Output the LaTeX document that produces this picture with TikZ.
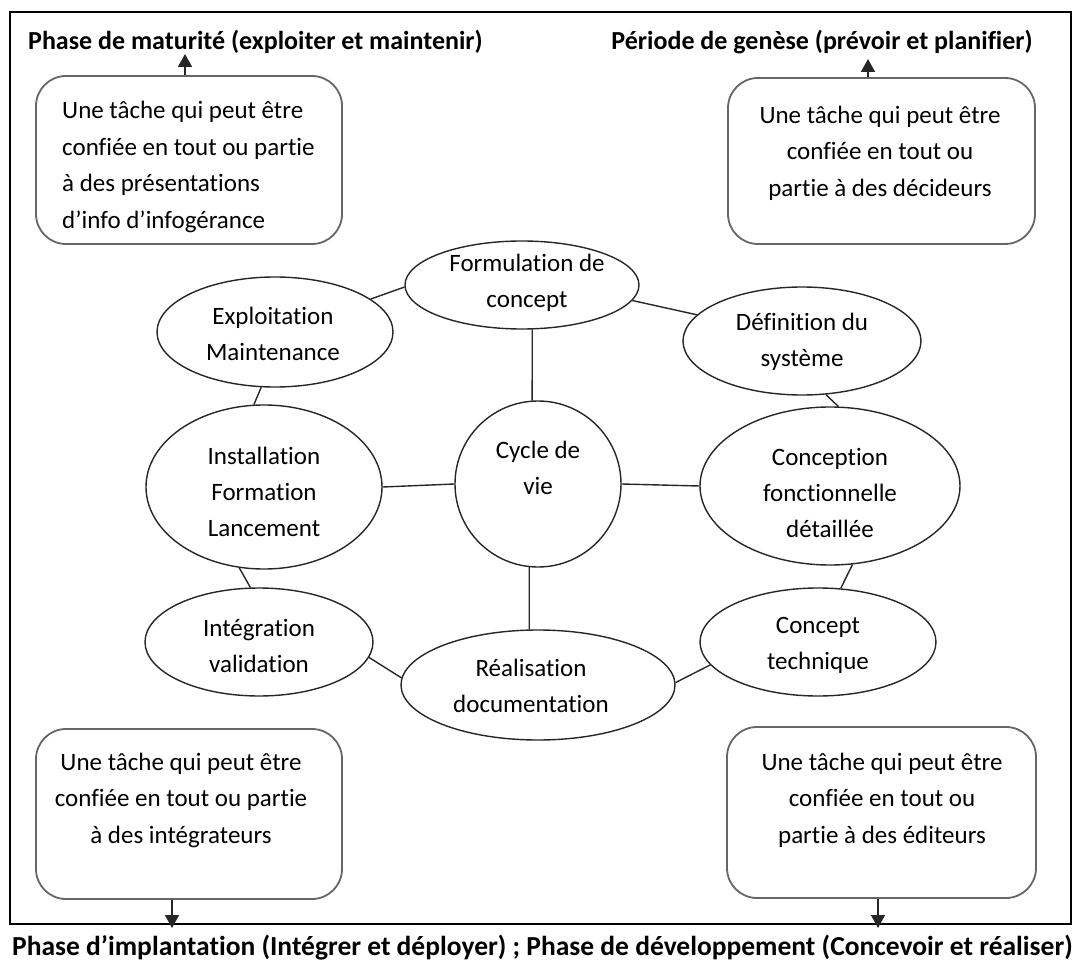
\documentclass[tikz,border=0pt]{standalone}
\usepackage{fontspec}
\setmainfont{Carlito}[Ligatures={NoCommon,NoContextual,NoRare}]
\usetikzlibrary{shapes.geometric,arrows.meta,calc}
\begin{document}
\begin{tikzpicture}[x=1pt,y=-1pt,
  ell/.style={draw=black!85, line width=1.4pt, ellipse, inner sep=0pt},
  lbl/.style={font=\fontsize{25}{36}\selectfont, align=center, inner sep=0pt},
  card/.style={draw=black!60, line width=1.8pt, rounded corners=30pt, inner sep=0pt},
  cardtext/.style={font=\fontsize{25}{36.5}\selectfont, inner sep=0pt},
  title/.style={font=\bfseries\fontsize{26}{30}\selectfont, inner sep=0pt},
  link/.style={draw=black!85, line width=1.4pt},
  flow/.style={draw=black!85, line width=1.6pt, -{Triangle[width=14pt,length=13pt]}}
]
\useasboundingbox (0,0) rectangle (1077,960);

% outer frame
\draw[line width=1.8pt] (10,12) rectangle (1071,924);

% phase titles
\node[title, anchor=base west] (tmat) at (28,50) {Phase de maturité (exploiter et maintenir)};
\node[title, anchor=base east] (tgen) at (1033,50) {Période de genèse (prévoir et planifier)};
\node[title, font=\bfseries\fontsize{27.5}{30}\selectfont, anchor=base west] (timp) at (12,955) {Phase d’implantation (Intégrer et déployer) ; Phase de développement (Concevoir et réaliser)};

% task cards
\node[card, minimum width=306pt, minimum height=168pt] (c1) at (189,160) {};
\node[card, minimum width=307pt, minimum height=166pt] (c2) at (881.5,161) {};
\node[card, minimum width=306pt, minimum height=170pt] (c3) at (189,814) {};
\node[card, minimum width=309pt, minimum height=171pt] (c4) at (881.5,812.5) {};

\node[cardtext, align=left, anchor=west] (c1t) at (62,167) {Une tâche qui peut être\\confiée en tout ou partie\\à des présentations\\d’info d’infogérance};
\node[cardtext, align=center] (c2t) at (880,153) {Une tâche qui peut être\\confiée en tout ou\\partie à des décideurs};
\node[cardtext, align=center] (c3t) at (181,800) {Une tâche qui peut être\\confiée en tout ou partie\\à des intégrateurs};
\node[cardtext, align=center] (c4t) at (882,800) {Une tâche qui peut être\\confiée en tout ou\\partie à des éditeurs};

% arrows from the cards to the phases
\coordinate (a1) at (185,54);
\coordinate (a2) at (868,59);
\coordinate (a3) at (172,928);
\coordinate (a4) at (878,928);
\draw[flow] (a1 |- c1.north) -- (a1);
\draw[flow] (a2 |- c2.north) -- (a2);
\draw[flow] (a3 |- c3.south) -- (a3);
\draw[flow] (a4 |- c4.south) -- (a4);

% life-cycle stages
\node[ell, minimum width=234pt, minimum height=88pt]  (form) at (522,285) {};
\node[ell, minimum width=236pt, minimum height=110pt] (expl) at (275,332) {};
\node[ell, minimum width=238pt, minimum height=108pt] (defi) at (802,341) {};
\node[ell, minimum width=236pt, minimum height=164pt] (inst) at (264,487) {};
\node[circle, draw=black!85, line width=1.4pt, minimum size=166pt, inner sep=0pt] (cyc) at (538,484) {};
\node[ell, minimum width=260pt, minimum height=158pt] (conc) at (830,486) {};
\node[ell, minimum width=228pt, minimum height=108pt] (inte) at (259,642) {};
\node[ell, minimum width=274pt, minimum height=110pt] (real) at (538,685) {};
\node[ell, minimum width=236pt, minimum height=108pt] (tech) at (818,642) {};

\node[lbl] (formt) at (527,283) {Formulation de\\concept};
\node[lbl] (explt) at (273,334) {Exploitation\\Maintenance};
\node[lbl] (defit) at (802,342) {Définition du\\système};
\node[lbl] (instt) at (264,492) {Installation\\Formation\\Lancement};
\node[lbl] (cyct)  at (538,468) {Cycle de\\vie};
\node[lbl] (conct) at (830,493) {Conception\\fonctionnelle\\détaillée};
\node[lbl] (intet) at (259,646) {Intégration\\validation};
\node[lbl] (realt) at (531,686) {Réalisation\\documentation};
\node[lbl] (techt) at (818,645) {Concept\\technique};

% links between stages
\draw[link] (expl.19)  -- (form.181);
\draw[link] (form.352) -- (defi.166);
\draw[link] (form.283) -- (cyc.94);
\draw[link] (defi.294) -- (conc.84);
\draw[link] (expl.256) -- (inst.97);
\draw[link] (inst.east) -- (cyc.west);
\draw[link] (cyc.east) -- (conc.west);
\draw[link] (inst.253) -- (inte.99);
\draw[link] (cyc.264) -- (real.99);
\draw[link] (inte.352) -- (real.177);
\draw[link] (real.1) -- (tech.192);
\draw[link] (conc.286) -- (tech.67);
\end{tikzpicture}
\end{document}
